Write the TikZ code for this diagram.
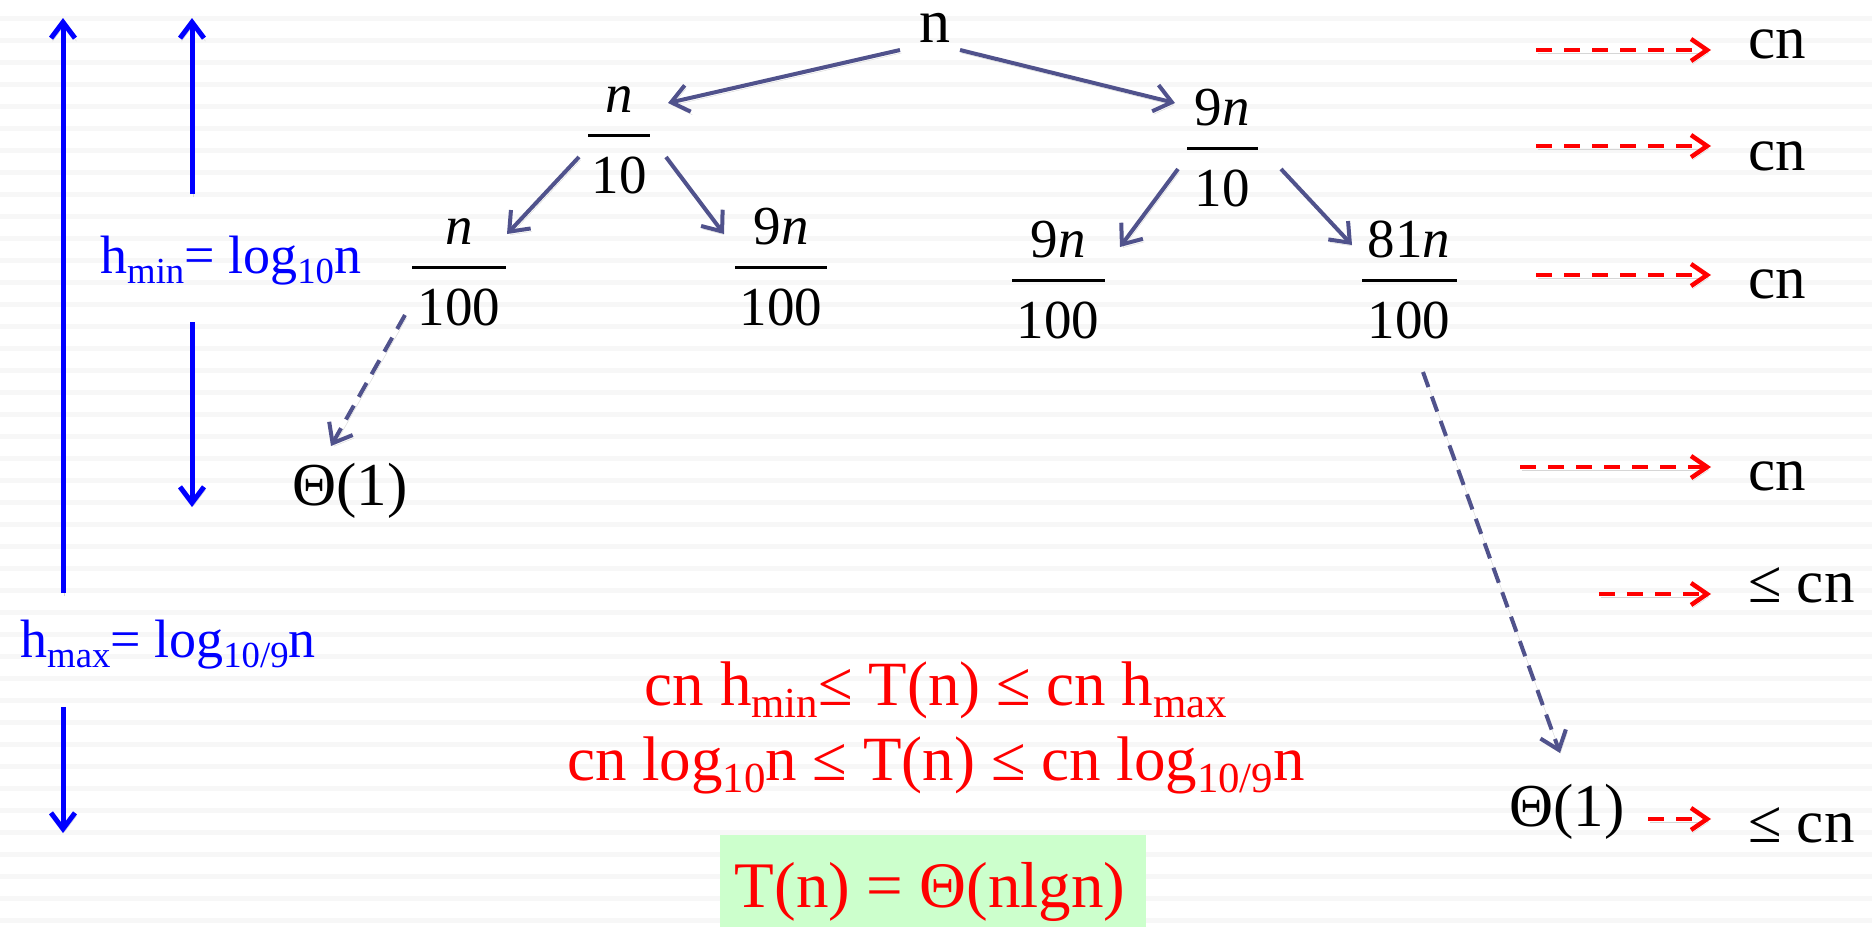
\documentclass[tikz,border=0pt]{standalone}
\usepackage{fontspec}
\setmainfont{Liberation Serif}
\usepackage{graphicx}
\usetikzlibrary{arrows.meta,calc}
\newcommand\myfs[1]{\fontsize{#1}{#1}\selectfont}
\newcommand\lsub[1]{\raisebox{-0.2em}{\scalebox{0.68}{#1}}}
\definecolor{treec}{RGB}{80,82,140}
\definecolor{boxgreen}{RGB}{204,255,204}
\definecolor{stripe}{RGB}{247,247,247}
\newcommand\frc[6]{%
  \node[txt,font=\myfs{55}] (#1n) at (#2,{#3-23}) {#5};
  \node[txt,font=\myfs{55}] (#1d) at (#2,{#3+58}) {#6};
  \node[fill=black,inner sep=0pt,minimum width=#4,minimum height=3pt] (#1) at (#2,#3) {};
}
\begin{document}
\begin{tikzpicture}[x=1pt,y=-1pt,
  txt/.style={inner sep=0pt,anchor=base},
  shadowed/.style={preaction={draw=black!16,transform canvas={shift={(1.5pt,-3pt)}}}},
  tree/.style={draw=treec,line width=4pt,line join=round,-{Straight Barb[length=17pt,width=27pt]},shadowed},
  treedash/.style={tree,dash pattern=on 16pt off 10pt},
  bluearr/.style={draw=blue,line width=5pt,-{Straight Barb[length=16pt,width=24pt]},shadowed},
  reddash/.style={draw=red,line width=4.5pt,dash pattern=on 16pt off 12pt,-{Straight Barb[length=16pt,width=22pt]},shadowed},
  cnlab/.style={inner sep=0pt,anchor=base west,font=\myfs{61}}
]
\useasboundingbox (0,0) rectangle (1872,927);
\fill[white] (0,0) rectangle (1872,927);
\foreach \k in {0,...,41} {\fill[stripe] (0,{16+22*\k}) rectangle (1872,{21+22*\k});}

% tree nodes
\node[txt,font=\myfs{62}] (root) at (935,42) {n};
\frc{f1}{619}{135}{62}{\textit{n}}{10}
\frc{f2}{1222}{148}{71}{9\textit{n}}{10}
\frc{f3}{459}{267}{94}{\textit{n}}{100}
\frc{f4}{781}{267}{92}{9\textit{n}}{100}
\frc{f5}{1058}{280}{93}{9\textit{n}}{100}
\frc{f6}{1409}{280}{95}{81\textit{n}}{100}
\node[txt,font=\myfs{61}] (t1) at (350,505) {Θ(1)};
\node[txt,font=\myfs{61}] (t2) at (1567,826) {Θ(1)};

% tree connectors
\draw[tree] ($(root.base)+(-35,8)$) -- ($(f1)+(49,-32)$);
\draw[tree] ($(root.base)+(25,8)$) -- ($(f2)+(-47,-45)$);
\draw[tree] ($(f1)+(-40,22)$) -- ($(f3)+(48,-33)$);
\draw[tree] ($(f1)+(47,22)$) -- ($(f4)+(-57,-33)$);
\draw[tree] ($(f2)+(-44,21)$) -- ($(f5)+(62,-33)$);
\draw[tree] ($(f2)+(59,21)$) -- ($(f6)+(-57,-35)$);
\draw[treedash] ($(f3)+(-54,48)$) -- ($(t1.base)+(-19,-59)$);
\draw[treedash] ($(f6)+(14,92)$) -- ($(t2.base)+(-7,-73)$);

% heights
\node[inner sep=0pt,anchor=base west,font=\myfs{54},text=blue] (hmin) at (100,273) {h\lsub{min}= log\lsub{10}n};
\node[inner sep=0pt,anchor=base west,font=\myfs{54},text=blue] (hmax) at (20,657) {h\lsub{max}= log\lsub{10/9}n};
\draw[bluearr] (63,593) -- (63,18);
\draw[bluearr] (63,707) -- (63,833);
\draw[bluearr] (192,194) -- (192,18);
\draw[bluearr] (192,322) -- (192,507);

% level costs
\node[cnlab] (c1) at (1748,58) {cn};
\node[cnlab] (c2) at (1748,170) {cn};
\node[cnlab] (c3) at (1748,298) {cn};
\node[cnlab] (c4) at (1748,490) {cn};
\node[cnlab] (c5) at (1748,602) {≤ cn};
\node[cnlab] (c6) at (1748,842) {≤ cn};
\draw[reddash] ($(c1.base west)+(-212,-8)$) -- ($(c1.base west)+(-37,-8)$);
\draw[reddash] ($(c2.base west)+(-212,-24)$) -- ($(c2.base west)+(-37,-24)$);
\draw[reddash] ($(c3.base west)+(-212,-23)$) -- ($(c3.base west)+(-37,-23)$);
\draw[reddash] ($(c4.base west)+(-228,-23)$) -- ($(c4.base west)+(-37,-23)$);
\draw[reddash] ($(c5.base west)+(-149,-8)$) -- ($(c5.base west)+(-37,-8)$);
\draw[reddash] ($(c6.base west)+(-100,-23)$) -- ($(c6.base west)+(-37,-23)$);

% bounds
\node[txt,font=\myfs{63},text=red] (eq1) at (936,705) {cn h\lsub{min}≤ T(n) ≤ cn h\lsub{max}};
\node[txt,font=\myfs{63},text=red] (eq2) at (936,780) {cn log\lsub{10}n ≤ T(n) ≤ cn log\lsub{10/9}n};
\node[fill=boxgreen,inner sep=0pt,minimum width=426,minimum height=92] (resbox) at (933,881) {};
\node[txt,font=\myfs{65},text=red] (res) at (930,907) {T(n) = Θ(nlgn)};
\end{tikzpicture}
\end{document}
